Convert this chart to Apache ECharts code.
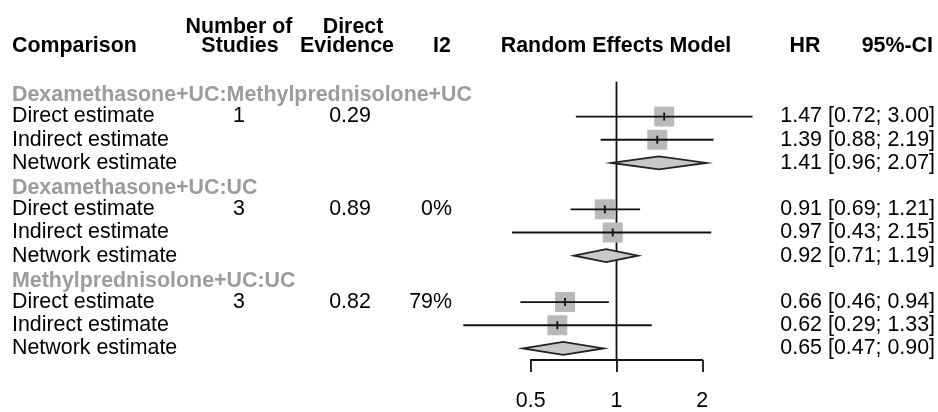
<!DOCTYPE html>
<html>
<head>
<meta charset="utf-8">
<script src="https://cdn.jsdelivr.net/npm/echarts@6/dist/echarts.min.js"></script>
<style>
html, body { margin: 0; padding: 0; background: #fff; }
#chart { width: 938px; height: 412px; }
</style>
</head>
<body>
<div id="chart"></div>
<script>
// data
var comparisons = ['Dexamethasone+UC:Methylprednisolone+UC', 'Dexamethasone+UC:UC', 'Methylprednisolone+UC:UC'];
var estimateTypes = ['Direct estimate', 'Indirect estimate', 'Network estimate'];
var nStudies = [1, 3, 3];
var directEvidence = ['0.29', '0.89', '0.82'];
var i2 = ['', '0%', '79%'];
var hr = [[1.47, 1.39, 1.41], [0.91, 0.97, 0.92], [0.66, 0.62, 0.65]];
var ciLower = [[0.72, 0.88, 0.96], [0.69, 0.43, 0.71], [0.46, 0.29, 0.47]];
var ciUpper = [[3.00, 2.19, 2.07], [1.21, 2.15, 1.19], [0.94, 1.33, 0.90]];
var axisTicks = [0.5, 1, 2];

var FONT = '"Liberation Sans", Arial, sans-serif';
var FS = 21.4;
var LW = 1.8;

// one row per line of the table: group header then 3 estimates
var tableRows = [];
var forestData = [];
comparisons.forEach(function (name, g) {
    var base = g * 4;
    tableRows.push({ row: base, header: true, label: name });
    estimateTypes.forEach(function (t, k) {
        tableRows.push({
            row: base + 1 + k,
            header: false,
            label: t,
            studies: k === 0 ? String(nStudies[g]) : '',
            evidence: k === 0 ? directEvidence[g] : '',
            i2: k === 0 ? i2[g] : '',
            hr: hr[g][k].toFixed(2),
            ci: '[' + ciLower[g][k].toFixed(2) + '; ' + ciUpper[g][k].toFixed(2) + ']'
        });
        forestData.push([hr[g][k], ciLower[g][k], ciUpper[g][k], base + 1 + k, k]);
    });
});

function txt(x, y, s, align, opts) {
    opts = opts || {};
    return {
        type: 'text', x: x, y: y,
        style: {
            text: s, fill: opts.fill || '#000', align: align, verticalAlign: 'middle',
            fontFamily: FONT, fontSize: FS, fontWeight: opts.bold ? 'bold' : 'normal'
        }
    };
}

function renderTable(params, api) {
    var r = tableRows[params.dataIndex];
    var y = api.coord([1, api.value(1)])[1];
    if (r.header) {
        return { type: 'group', children: [txt(12, y + 2, r.label, 'left', { bold: true, fill: '#9c9c9c' })] };
    }
    return {
        type: 'group', children: [
            txt(12, y, r.label, 'left'),
            txt(239, y, r.studies, 'center'),
            txt(350, y, r.evidence, 'center'),
            txt(452, y, r.i2, 'right'),
            txt(822, y, r.hr, 'right'),
            txt(935, y, r.ci, 'right')
        ]
    };
}

function renderForest(params, api) {
    var row = api.value(3);
    var c = api.coord([api.value(0), row]);
    var lo = api.coord([api.value(1), row]);
    var hi = api.coord([api.value(2), row]);
    if (api.value(4) === 2) {
        // network estimate -> diamond
        var h = 6.5;
        return {
            type: 'polygon',
            shape: { points: [[lo[0], c[1]], [c[0], c[1] - h], [hi[0], c[1]], [c[0], c[1] + h]] },
            style: { fill: '#c8c8c8', stroke: '#222', lineWidth: LW }
        };
    }
    var s = 20;
    return {
        type: 'group', children: [
            { type: 'rect', shape: { x: c[0] - s / 2, y: c[1] - s / 2, width: s, height: s }, style: { fill: '#b9b9b9' } },
            { type: 'line', shape: { x1: lo[0], y1: c[1], x2: hi[0], y2: c[1] }, style: { stroke: '#111', lineWidth: LW } },
            { type: 'line', shape: { x1: c[0], y1: c[1] - 4, x2: c[0], y2: c[1] + 4 }, style: { stroke: '#111', lineWidth: LW } }
        ]
    };
}

function renderRef(params, api) {
    var a = api.coord([api.value(0), -0.5]);
    var b = api.coord([api.value(0), 11.5]);
    return { type: 'line', shape: { x1: a[0], y1: a[1], x2: b[0], y2: b[1] }, style: { stroke: '#111', lineWidth: LW } };
}

var headStyle = { fontFamily: FONT, fontSize: FS, fontWeight: 'bold', fill: '#000', verticalAlign: 'middle' };
function head(x, y, s, align) {
    return { type: 'text', x: x, y: y, silent: true, style: Object.assign({ text: s, align: align }, headStyle) };
}

var chart = echarts.init(document.getElementById('chart'));
chart.setOption({
    animation: false,
    grid: { left: 530.7, right: 235.7, top: 81.8, bottom: 51 },
    xAxis: {
        type: 'log',
        logBase: 2,
        position: 'bottom',
        min: axisTicks[0],
        max: axisTicks[axisTicks.length - 1],
        axisLine: { show: true, onZero: false, lineStyle: { color: '#111', width: LW } },
        axisTick: { show: true, length: 12, lineStyle: { color: '#111', width: LW } },
        axisLabel: {
            margin: 31, color: '#000', fontFamily: FONT, fontSize: FS,
            formatter: function (v) { return String(+v.toFixed(2)); }
        },
        splitLine: { show: false }
    },
    yAxis: { type: 'value', inverse: true, min: -0.5, max: 11.5, show: false },
    graphic: [
        head(12, 46, 'Comparison', 'left'),
        head(239, 27, 'Number of', 'center'),
        head(240, 46, 'Studies', 'center'),
        head(353, 27, 'Direct', 'center'),
        head(347, 46, 'Evidence', 'center'),
        head(442, 46, 'I2', 'center'),
        head(616, 46, 'Random Effects Model', 'center'),
        head(805, 46, 'HR', 'center'),
        head(933, 46, '95%-CI', 'right')
    ],
    series: [
        { type: 'custom', clip: false, silent: true, renderItem: renderRef, data: [[1]] },
        { type: 'custom', clip: false, silent: true, renderItem: renderForest, data: forestData },
        {
            type: 'custom', clip: false, silent: true, renderItem: renderTable,
            data: tableRows.map(function (r) { return [1, r.row]; })
        }
    ]
});
</script>
</body>
</html>
